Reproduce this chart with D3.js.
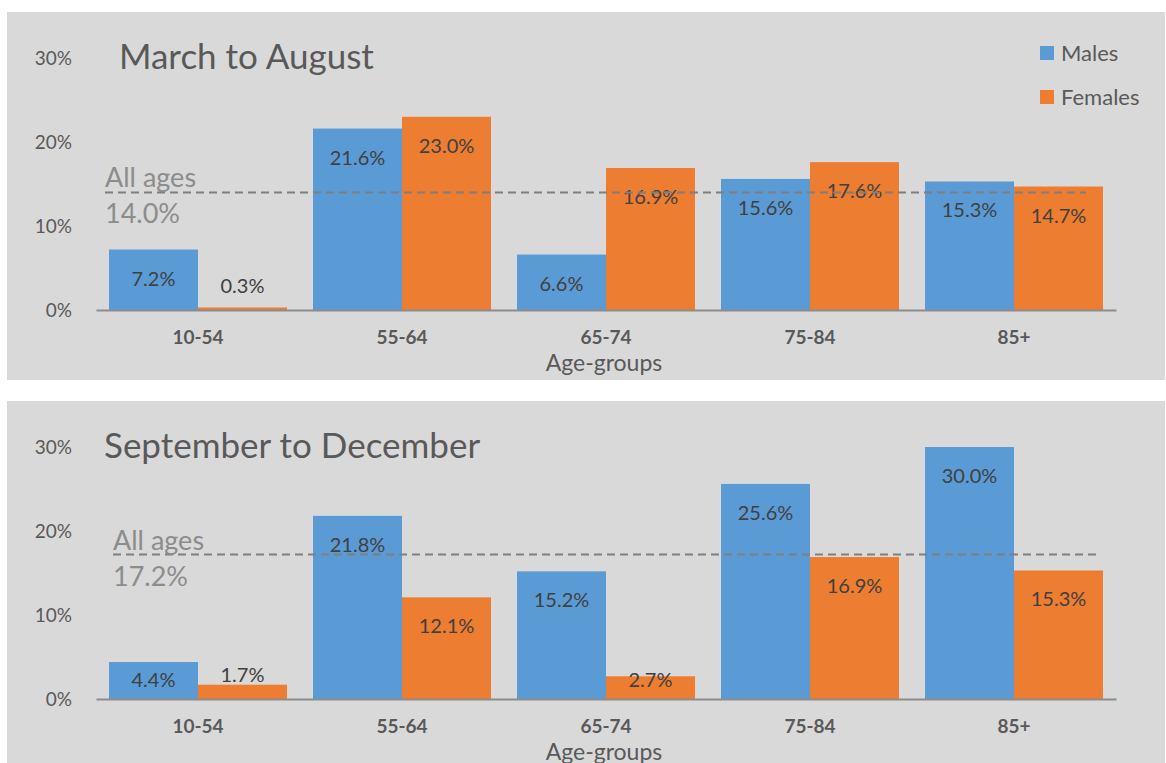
<!DOCTYPE html>
<html lang="en">
<head>
<meta charset="UTF-8"/>
<title>Age-groups by period</title>
<script src="https://d3js.org/d3.v7.min.js"></script>
<style>
  body { margin: 0; background: #fff; }
  text { font-family: Lato, "Open Sans", sans-serif; }
</style>
</head>
<body>
<script>
// data
var categories = ["10-54", "55-64", "65-74", "75-84", "85+"];
var periods = ["March to August", "September to December"];
var malesMarAug = [7.2, 21.6, 6.6, 15.6, 15.3];
var femalesMarAug = [0.3, 23.0, 16.9, 17.6, 14.7];
var malesSepDec = [4.4, 21.8, 15.2, 25.6, 30.0];
var femalesSepDec = [1.7, 12.1, 2.7, 16.9, 15.3];
var allAges = [14.0, 17.2];
var yTicks = [0, 10, 20, 30];
var seriesNames = ["Males", "Females"];

var w = 1166, h = 763;
var colors = { Males: "#5b9bd5", Females: "#ed7d31" };
var textCol = "#595959";

var svg = d3.select("body").append("svg")
    .attr("width", w)
    .attr("height", h);

// layout of the two panels
var panels = [
    { top: 12, height: 368, title: periods[0], titleX: 119, males: malesMarAug, females: femalesMarAug, avg: allAges[0], avgX: [105, 1086], legend: true },
    { top: 401, height: 380, title: periods[1], titleX: 104, males: malesSepDec, females: femalesSepDec, avg: allAges[1], avgX: [113, 1096], legend: false }
];

var plotLeft = 96, plotRight = 1116;
var zeroY = 298;   // relative to panel top

var x0 = d3.scaleBand()
    .domain(categories)
    .range([plotLeft, plotRight])
    .paddingInner(0.1275)
    .paddingOuter(0.06375);

var x1 = d3.scaleBand()
    .domain(seriesNames)
    .range([0, x0.bandwidth()]);

var y = d3.scaleLinear()
    .domain([0, 30])
    .range([zeroY, zeroY - 252]);

panels.forEach(function(p) {
    var g = svg.append("g").attr("transform", "translate(0," + p.top + ")");

    g.append("rect")
        .attr("x", 7).attr("y", 0)
        .attr("width", 1158).attr("height", p.height)
        .attr("fill", "#d9d9d9");

    // y axis labels
    var yAxis = g.append("g")
        .attr("transform", "translate(" + plotLeft + ",0)")
        .call(d3.axisLeft(y).tickValues(yTicks).tickSize(0).tickPadding(24)
            .tickFormat(function(d) { return d + "%"; }));
    yAxis.select(".domain").remove();
    yAxis.selectAll("text")
        .attr("font-size", "19px")
        .attr("fill", textCol)
        .style("font-family", "Lato, sans-serif");

    // bars
    var rows = categories.map(function(c, i) {
        return { cat: c, vals: [ { s: "Males", v: p.males[i] }, { s: "Females", v: p.females[i] } ] };
    });

    var grp = g.selectAll(".grp")
        .data(rows)
        .enter()
        .append("g")
        .attr("transform", function(d) { return "translate(" + x0(d.cat) + ",0)"; });

    grp.selectAll("rect")
        .data(function(d) { return d.vals; })
        .enter()
        .append("rect")
        .attr("x", function(d) { return x1(d.s); })
        .attr("y", function(d) { return y(d.v); })
        .attr("width", x1.bandwidth())
        .attr("height", function(d) { return zeroY - y(d.v); })
        .attr("fill", function(d) { return colors[d.s]; });

    // x axis
    var xAxis = g.append("g")
        .attr("transform", "translate(0," + zeroY + ")")
        .call(d3.axisBottom(x0).tickSize(0).tickPadding(21));
    xAxis.select(".domain")
        .attr("stroke", "#8c8c8c")
        .attr("stroke-width", 2);
    xAxis.selectAll("text")
        .attr("font-size", "19px")
        .attr("font-weight", "bold")
        .attr("fill", textCol)
        .style("font-family", "Lato, sans-serif");

    g.append("text")
        .attr("x", 604).attr("y", zeroY + 61)
        .attr("text-anchor", "middle")
        .attr("font-size", "23px")
        .attr("fill", textCol)
        .text("Age-groups");

    // average line
    g.append("line")
        .attr("x1", p.avgX[0]).attr("x2", p.avgX[1])
        .attr("y1", y(p.avg)).attr("y2", y(p.avg))
        .attr("stroke", "#7f7f7f")
        .attr("stroke-width", 2)
        .attr("stroke-dasharray", "8,5");

    g.append("text")
        .attr("x", p.avgX[0]).attr("y", y(p.avg) - 5)
        .attr("font-size", "27px")
        .attr("fill", "#8c8c8c")
        .text("All ages");

    g.append("text")
        .attr("x", p.avgX[0]).attr("y", y(p.avg) + 31)
        .attr("font-size", "27px")
        .attr("fill", "#8c8c8c")
        .text(p.avg.toFixed(1) + "%");

    // data labels
    grp.selectAll(".lbl")
        .data(function(d) { return d.vals; })
        .enter()
        .append("text")
        .attr("x", function(d) { return x1(d.s) + x1.bandwidth() / 2; })
        .attr("y", function(d) {
            if (d.v < 2) return zeroY - 17;
            return Math.min(y(d.v) + 36, zeroY - 12);
        })
        .attr("text-anchor", "middle")
        .attr("font-size", "20px")
        .attr("fill", "#404040")
        .text(function(d) { return d.v.toFixed(1) + "%"; });

    // title
    g.append("text")
        .attr("x", p.titleX).attr("y", 57)
        .attr("font-size", "35px")
        .attr("fill", textCol)
        .text(p.title);

    // legend
    if (p.legend) {
        var lg = g.selectAll(".leg")
            .data(seriesNames)
            .enter()
            .append("g")
            .attr("transform", function(d, i) { return "translate(1040," + (34 + i * 44) + ")"; });
        lg.append("rect")
            .attr("width", 14).attr("height", 14)
            .attr("fill", function(d) { return colors[d]; });
        lg.append("text")
            .attr("x", 21).attr("y", 15)
            .attr("font-size", "22px")
            .attr("fill", textCol)
            .text(function(d) { return d; });
    }
});
</script>
</body>
</html>
